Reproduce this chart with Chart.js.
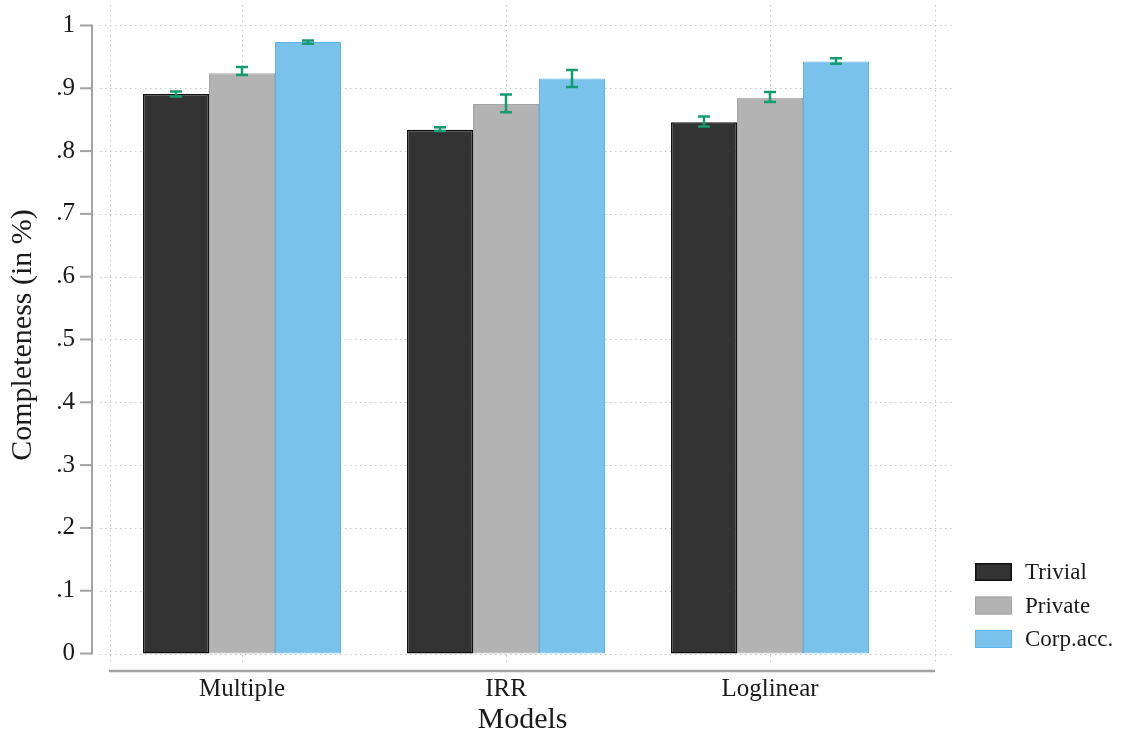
<!DOCTYPE html>
<html>
<head>
<meta charset="utf-8">
<script src="https://cdn.jsdelivr.net/npm/chart.js@4.4.1/dist/chart.umd.min.js"></script>
<style>
  html, body { margin: 0; padding: 0; background: #ffffff; }
  #wrap { width: 1121px; height: 735px; position: relative; }
</style>
</head>
<body>
<div id="wrap"><canvas id="c"></canvas></div>
<script>
// Model categories and series
const models = ['Multiple', 'IRR', 'Loglinear'];
const seriesNames = ['Trivial', 'Private', 'Corp.acc.'];

// Mean completeness per model, with confidence bounds
const trivial   = [0.891, 0.834, 0.846];
const trivialLo = [0.887, 0.832, 0.839];
const trivialHi = [0.895, 0.838, 0.855];

const privateV  = [0.924, 0.875, 0.885];
const privateLo = [0.921, 0.862, 0.878];
const privateHi = [0.934, 0.890, 0.894];

const corpAcc   = [0.9735, 0.9155, 0.9425];
const corpAccLo = [0.971, 0.902, 0.939];
const corpAccHi = [0.976, 0.929, 0.948];

// Y axis ticks
const yTicks = [0, 0.1, 0.2, 0.3, 0.4, 0.5, 0.6, 0.7, 0.8, 0.9, 1];
const yTickLabels = ['0', '.1', '.2', '.3', '.4', '.5', '.6', '.7', '.8', '.9', '1'];

const FONT = "'Liberation Serif', 'Times New Roman', serif";
const TEXT = '#1a1a1a';
const AXIS = '#a3a3a3';
const GRID = '#c8c8c8';
const ERR = '#159a72';

const fills   = ['#333333', '#b3b3b3', '#78c2eb'];
const borders = ['#111111', '#a5a5a5', '#5eb3e3'];
const borderW = [1.5, 1, 1];

const means = [trivial, privateV, corpAcc];
const lows  = [trivialLo, privateLo, corpAccLo];
const highs = [trivialHi, privateHi, corpAccHi];

const datasets = seriesNames.map((name, d) => ({
  label: name,
  data: models.map((m, i) => ({ x: i + 1, y: means[d][i] })),
  backgroundColor: fills[d],
  borderColor: borders[d],
  borderWidth: borderW[d],
  borderSkipped: false,
  categoryPercentage: 0.75,
  barPercentage: 1.0
}));

// Dotted grid, axis lines, error bars and legend
const framePlugin = {
  id: 'frame',
  beforeDatasetsDraw(chart) {
    const { ctx, chartArea: a, scales: { x, y } } = chart;
    ctx.save();
    ctx.strokeStyle = GRID;
    ctx.lineWidth = 1;
    ctx.setLineDash([1.5, 3.5]);
    yTicks.forEach(v => {
      const py = Math.round(y.getPixelForValue(v)) + 0.5;
      ctx.beginPath();
      ctx.moveTo(a.left - 10, py);
      ctx.lineTo(a.right + 17, py);
      ctx.stroke();
    });
    [x.min, 1, 2, 3, x.max].forEach(v => {
      const px = Math.round(x.getPixelForValue(v)) + 0.5;
      ctx.beginPath();
      ctx.moveTo(px, a.top);
      ctx.lineTo(px, a.bottom);
      ctx.stroke();
    });
    ctx.restore();
  },
  afterDraw(chart) {
    const { ctx, chartArea: a, scales: { x, y } } = chart;
    ctx.save();
    // error bars
    ctx.strokeStyle = ERR;
    ctx.lineWidth = 2.5;
    seriesNames.forEach((n, d) => {
      const meta = chart.getDatasetMeta(d);
      meta.data.forEach((bar, i) => {
        const cx = bar.x;
        const yl = y.getPixelForValue(lows[d][i]);
        const yh = y.getPixelForValue(highs[d][i]);
        ctx.beginPath();
        ctx.moveTo(cx, yl); ctx.lineTo(cx, yh);
        ctx.moveTo(cx - 6, yl); ctx.lineTo(cx + 6, yl);
        ctx.moveTo(cx - 6, yh); ctx.lineTo(cx + 6, yh);
        ctx.stroke();
      });
    });
    // y axis line with ticks
    ctx.strokeStyle = AXIS;
    ctx.lineWidth = 2;
    const axX = a.left - 18;
    const y0 = y.getPixelForValue(0), y1 = y.getPixelForValue(1);
    ctx.beginPath();
    ctx.moveTo(axX, y1 - 1); ctx.lineTo(axX, y0 + 1);
    ctx.stroke();
    yTicks.forEach(v => {
      const py = y.getPixelForValue(v);
      ctx.beginPath();
      ctx.moveTo(axX - 12, py); ctx.lineTo(axX, py);
      ctx.stroke();
    });
    // x axis line
    ctx.lineWidth = 2.5;
    ctx.beginPath();
    ctx.moveTo(a.left - 1, a.bottom + 6);
    ctx.lineTo(a.right, a.bottom + 6);
    ctx.stroke();
    // legend
    const lx = 975, ly = 563, rowH = 33.5, bw = 37, bh = 18;
    ctx.font = '23px ' + FONT;
    ctx.textBaseline = 'middle';
    ctx.textAlign = 'left';
    seriesNames.forEach((name, d) => {
      const top = ly + d * rowH;
      ctx.fillStyle = fills[d];
      ctx.fillRect(lx, top, bw, bh);
      ctx.strokeStyle = borders[d];
      ctx.lineWidth = borderW[d];
      ctx.strokeRect(lx + borderW[d] / 2, top + borderW[d] / 2, bw - borderW[d], bh - borderW[d]);
      ctx.fillStyle = TEXT;
      ctx.fillText(name, lx + 50, top + bh / 2 + 1);
    });
    ctx.restore();
  }
};

new Chart(document.getElementById('c'), {
  type: 'bar',
  data: { datasets },
  options: {
    responsive: true,
    maintainAspectRatio: false,
    animation: false,
    events: [],
    layout: { padding: { left: 8, right: 186, top: 5, bottom: 0 } },
    plugins: { legend: { display: false }, tooltip: { enabled: false } },
    scales: {
      x: {
        type: 'linear',
        offset: false,
        min: 0.5,
        max: 3.625,
        afterBuildTicks: s => { s.ticks = [1, 2, 3].map(v => ({ value: v })); },
        afterFit: s => { s.height = 70; s.paddingLeft = 0; s.paddingRight = 0; },
        ticks: {
          callback: (v) => models[Math.round(v) - 1],
          font: { family: FONT, size: 25 },
          color: TEXT,
          padding: 9,
          maxRotation: 0,
          autoSkip: false
        },
        grid: { display: false, drawTicks: false, offset: false },
        border: { display: false },
        title: {
          display: true,
          text: 'Models',
          font: { family: FONT, size: 30, lineHeight: 1 },
          color: TEXT,
          padding: 0
        }
      },
      y: {
        type: 'linear',
        min: -0.0183,
        max: 1.0326,
        afterBuildTicks: s => { s.ticks = yTicks.map(v => ({ value: v })); },
        afterFit: s => { s.width = 102; s.paddingTop = 0; s.paddingBottom = 0; },
        ticks: {
          callback: (v, i) => yTickLabels[i],
          font: { family: FONT, size: 25 },
          color: TEXT,
          padding: 35
        },
        grid: { display: false, drawTicks: false },
        border: { display: false },
        title: {
          display: true,
          text: 'Completeness (in %)',
          font: { family: FONT, size: 30, lineHeight: 1 },
          color: TEXT,
          padding: 0
        }
      }
    }
  },
  plugins: [framePlugin]
});
</script>
</body>
</html>
